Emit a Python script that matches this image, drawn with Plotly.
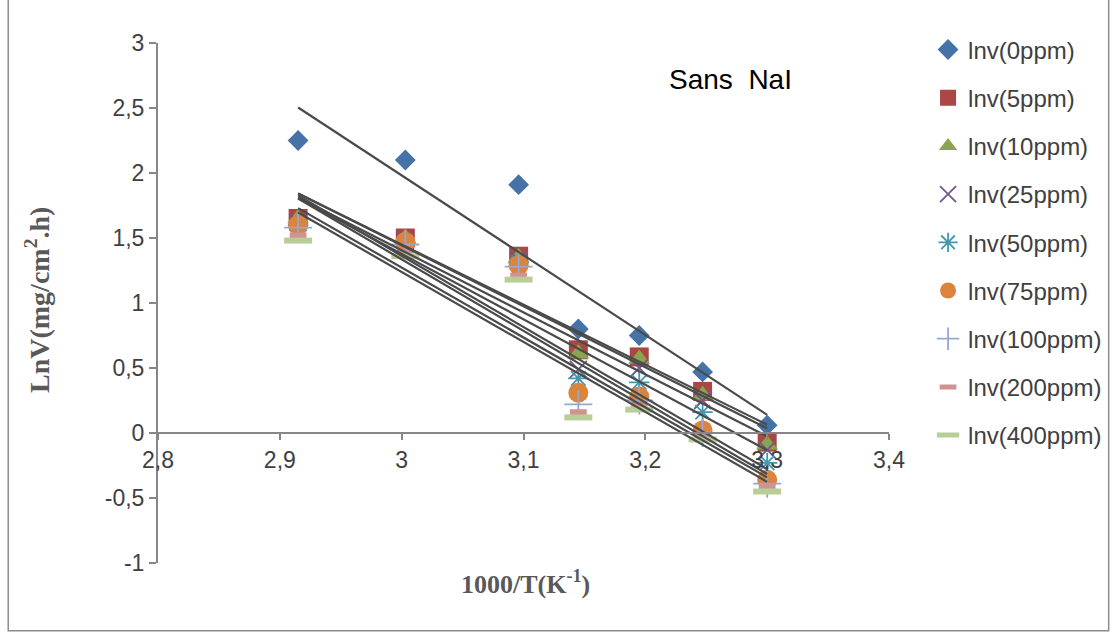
import numpy as np
import plotly.graph_objects as go

# 1000/T values (K^-1)
inv_T = [2.915, 3.003, 3.096, 3.145, 3.195, 3.247, 3.300]

series_names = ["lnv(0ppm)", "lnv(5ppm)", "lnv(10ppm)", "lnv(25ppm)", "lnv(50ppm)",
                "lnv(75ppm)", "lnv(100ppm)", "lnv(200ppm)", "lnv(400ppm)"]

lnv_0 = [2.25, 2.10, 1.91, 0.80, 0.75, 0.47, 0.06]
lnv_5 = [1.65, 1.50, 1.36, 0.64, 0.585, 0.32, -0.07]
lnv_10 = [1.65, 1.50, 1.35, 0.61, 0.57, 0.29, -0.09]
lnv_25 = [1.62, 1.48, 1.33, 0.49, 0.50, 0.25, -0.13]
lnv_50 = [1.60, 1.46, 1.31, 0.42, 0.39, 0.16, -0.23]
lnv_75 = [1.60, 1.47, 1.29, 0.31, 0.28, 0.02, -0.36]
lnv_100 = [1.58, 1.45, 1.28, 0.22, 0.25, 0.00, -0.39]
lnv_200 = [1.52, 1.39, 1.21, 0.16, 0.20, -0.01, -0.41]
lnv_400 = [1.48, 1.36, 1.18, 0.12, 0.18, -0.05, -0.45]

all_series = [lnv_0, lnv_5, lnv_10, lnv_25, lnv_50, lnv_75, lnv_100, lnv_200, lnv_400]

x_tickvals = [2.8, 2.9, 3.0, 3.1, 3.2, 3.3, 3.4]
x_ticktext = ["2,8", "2,9", "3", "3,1", "3,2", "3,3", "3,4"]
y_tickvals = [-1, -0.5, 0, 0.5, 1, 1.5, 2, 2.5, 3]
y_ticktext = ["-1", "-0,5", "0", "0,5", "1", "1,5", "2", "2,5", "3"]

colors = ["#4572A7", "#AA4643", "#89A54E", "#71588F", "#4198AF",
          "#DB843D", "#93A9CF", "#D19392", "#B9CD96"]
symbols = ["diamond", "square", "triangle-up", "x-thin-open", "asterisk-open",
           "circle", "cross-thin-open", "line-ew-open", "line-ew-open"]
sizes = [16, 19, 19, 17, 17, 20, 20, 12, 20]
line_w = [0, 0, 0, 1.8, 1.8, 0, 1.8, 6, 6]

fig = go.Figure()

for i, (name, ys) in enumerate(zip(series_names, all_series)):
    mk = dict(symbol=symbols[i], size=sizes[i], color=colors[i])
    if line_w[i] > 0:
        mk["line"] = dict(color=colors[i], width=line_w[i])
    else:
        mk["line"] = dict(width=0)
    fig.add_trace(go.Scatter(x=inv_T, y=ys, mode="markers", name=name,
                             marker=mk, legendgroup=name))

# linear trendlines (least squares from each series)
for name, ys in zip(series_names, all_series):
    a, b = np.polyfit(inv_T, ys, 1)
    xs = [min(inv_T), max(inv_T)]
    fig.add_trace(go.Scatter(x=xs, y=[a * v + b for v in xs], mode="lines",
                             line=dict(color="#4a4a4a", width=2.2),
                             showlegend=False, hoverinfo="skip",
                             legendgroup=name))

axis_col = "#878787"
tick_font = dict(family="Liberation Sans, Arial, sans-serif", size=23, color="#404040")

fig.update_layout(
    width=1118, height=635,
    margin=dict(l=158, r=228, t=43, b=72),
    plot_bgcolor="white", paper_bgcolor="white",
    showlegend=True,
    legend=dict(x=1.052, y=1.03, xanchor="left", yanchor="top",
                font=dict(family="Liberation Sans, Arial, sans-serif", size=24, color="#404040"),
                tracegroupgap=14, itemsizing="trace", bgcolor="rgba(0,0,0,0)",
                maxheight=620),
    xaxis=dict(range=[2.8, 3.4], tickvals=x_tickvals, ticktext=x_ticktext,
               showgrid=False, zeroline=False, showline=True, linecolor=axis_col,
               linewidth=2, ticks="outside", ticklen=6, tickcolor=axis_col, tickwidth=1.5,
               anchor="free", position=0.25, tickfont=tick_font),
    yaxis=dict(range=[-1, 3], tickvals=y_tickvals, ticktext=y_ticktext,
               showgrid=False, zeroline=False, showline=True, linecolor=axis_col,
               linewidth=2, ticks="outside", ticklen=7, tickcolor=axis_col, tickwidth=1.5,
               tickfont=tick_font),
    shapes=[dict(type="rect", xref="paper", yref="paper",
                 x0=-0.2049, x1=1.3005, y0=-0.1305, y1=1.1,
                 line=dict(color="#8c8c8c", width=1.5), fillcolor="rgba(0,0,0,0)",
                 layer="below")],
    annotations=[
        dict(text="Sans\u00a0\u00a0NaI", xref="paper", yref="paper", x=0.6967, y=0.929,
             xanchor="left", yanchor="middle", showarrow=False,
             font=dict(family="Liberation Sans, Arial, sans-serif", size=28, color="#000000")),
        dict(text="<b>1000/T(K<sup>-1</sup>)</b>", xref="paper", yref="paper", x=0.503, y=-0.038,
             xanchor="center", yanchor="middle", showarrow=False,
             font=dict(family="Liberation Serif, Times New Roman, serif", size=26, color="#595959")),
        dict(text="<b>LnV(mg/cm<sup>2</sup>.h)</b>", xref="paper", yref="paper", x=-0.164, y=0.506,
             xanchor="center", yanchor="middle", textangle=-90, showarrow=False,
             font=dict(family="Liberation Serif, Times New Roman, serif", size=28, color="#595959")),
    ],
)

fig.write_html("out.html")
